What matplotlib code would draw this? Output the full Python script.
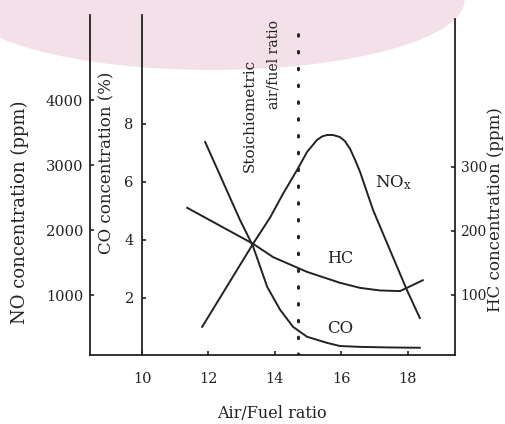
import matplotlib
matplotlib.use("Agg")
import matplotlib.pyplot as plt
from matplotlib.patches import Ellipse

plt.rcParams['font.family'] = ['DejaVu Serif']
plt.rcParams['mathtext.fontset'] = 'dejavuserif'

# ---- data ----
nox_afr = [11.81, 13.34, 13.86, 14.25, 14.67, 14.97, 15.27, 15.42, 15.57, 15.75, 15.96, 16.11, 16.27, 16.42, 16.57, 16.96, 17.47, 17.98, 18.37]
nox_ppm = [510, 1785, 2194, 2560, 2923, 3200, 3385, 3438, 3462, 3462, 3431, 3369, 3246, 3077, 2892, 2308, 1692, 1077, 646]

hc_afr = [11.36, 12.35, 13.34, 13.95, 14.97, 15.96, 16.57, 17.17, 17.77, 17.98, 18.46]
hc_ppm = [236, 208, 180, 159, 136, 119, 111, 107, 106, 111, 123]

co_afr = [11.90, 12.95, 13.34, 13.77, 14.16, 14.55, 14.97, 15.57, 15.96, 16.57, 17.47, 18.37]
co_pct = [7.38, 4.69, 3.79, 2.38, 1.59, 1.00, 0.66, 0.45, 0.34, 0.31, 0.29, 0.28]

stoich_afr = 14.7

x_ticks = [10, 12, 14, 16, 18]
no_ticks = [1000, 2000, 3000, 4000]
co_ticks = [2, 4, 6, 8]
hc_ticks = [100, 200, 300]

ink = '#222222'

fig = plt.figure(figsize=(5.05, 4.24), dpi=100)

# faint watermark band at the top
fig.patches.append(Ellipse((0.42, 1.0), 1.0, 0.33, transform=fig.transFigure,
                           facecolor='#f3e0e9', edgecolor='none', zorder=-5))

rect = [90/505, 1 - 355/424, (455 - 90)/505, (355 - 15)/424]
ax = fig.add_axes(rect)
ax.patch.set_alpha(0)
ax.set_xlim(8.43, 19.43)
ax.set_ylim(77, 5308)

ax_co = ax.twinx()
ax_co.set_ylim(0.03, 11.76)
ax_hc = ax.twinx()
ax_hc.set_ylim(6.25, 537)

for a in (ax, ax_co, ax_hc):
    a.patch.set_alpha(0)
    for s in a.spines.values():
        s.set_visible(False)
        s.set_color(ink)
        s.set_linewidth(1.3)

ax.spines['left'].set_visible(True)
ax.spines['bottom'].set_visible(True)
ax_co.spines['left'].set_visible(True)
ax_co.spines['left'].set_position(('data', 10))
ax_hc.spines['right'].set_visible(True)
ax_hc.spines['right'].set_bounds(6.25, 530)

ax.set_xticks(x_ticks)
ax.set_yticks(no_ticks)
ax.tick_params(axis='both', direction='in', length=3, width=1.2, color=ink,
               labelsize=10.5, labelcolor=ink)
ax.tick_params(axis='x', pad=12)
ax.tick_params(axis='y', pad=5)

ax_co.yaxis.set_ticks_position('left')
ax_co.set_yticks(co_ticks)
ax_co.tick_params(axis='y', direction='in', length=3, width=1.2, color=ink,
                  labelsize=10.5, labelcolor=ink, pad=6)

ax_hc.set_yticks(hc_ticks)
ax_hc.tick_params(axis='y', direction='in', length=3, width=1.2, color=ink,
                  labelsize=10, labelcolor=ink, pad=4)

# curves
ax.plot(nox_afr, nox_ppm, color=ink, lw=1.4, solid_joinstyle='round')
ax_hc.plot(hc_afr, hc_ppm, color=ink, lw=1.4, solid_joinstyle='round')
ax_co.plot(co_afr, co_pct, color=ink, lw=1.4, solid_joinstyle='round')

# stoichiometric dotted line
ax.plot([stoich_afr, stoich_afr], [77, 5200], color=ink, lw=2.2,
        linestyle=(0, (0.5, 5)), dash_capstyle='round')

# labels
ax.text(17.56, 2723, 'NO$_\\mathregular{x}$', fontsize=12, color=ink, ha='center', va='center')
ax.text(15.96, 1569, 'HC', fontsize=11.5, color=ink, ha='center', va='center')
ax.text(15.96, 492, 'CO', fontsize=12, color=ink, ha='center', va='center')
ax.text(13.25, 3769, 'Stoichiometric', fontsize=11, color=ink, rotation=90,
        ha='center', va='center')
ax.text(13.95, 4553, 'air/fuel ratio', fontsize=10, color=ink, rotation=90,
        ha='center', va='center')

fig.text(272/505, 1 - 414/424, 'Air/Fuel ratio', fontsize=11.5, color=ink,
         ha='center', va='center')
fig.text(20/505, 1 - 212/424, 'NO concentration (ppm)', fontsize=13, color=ink,
         rotation=90, ha='center', va='center')
fig.text(107/505, 1 - 163/424, 'CO concentration (%)', fontsize=12, color=ink,
         rotation=90, ha='center', va='center')
fig.text(496/505, 1 - 210/424, 'HC concentration (ppm)', fontsize=12, color=ink,
         rotation=90, ha='center', va='center')

fig.savefig('out.png', dpi=100)
